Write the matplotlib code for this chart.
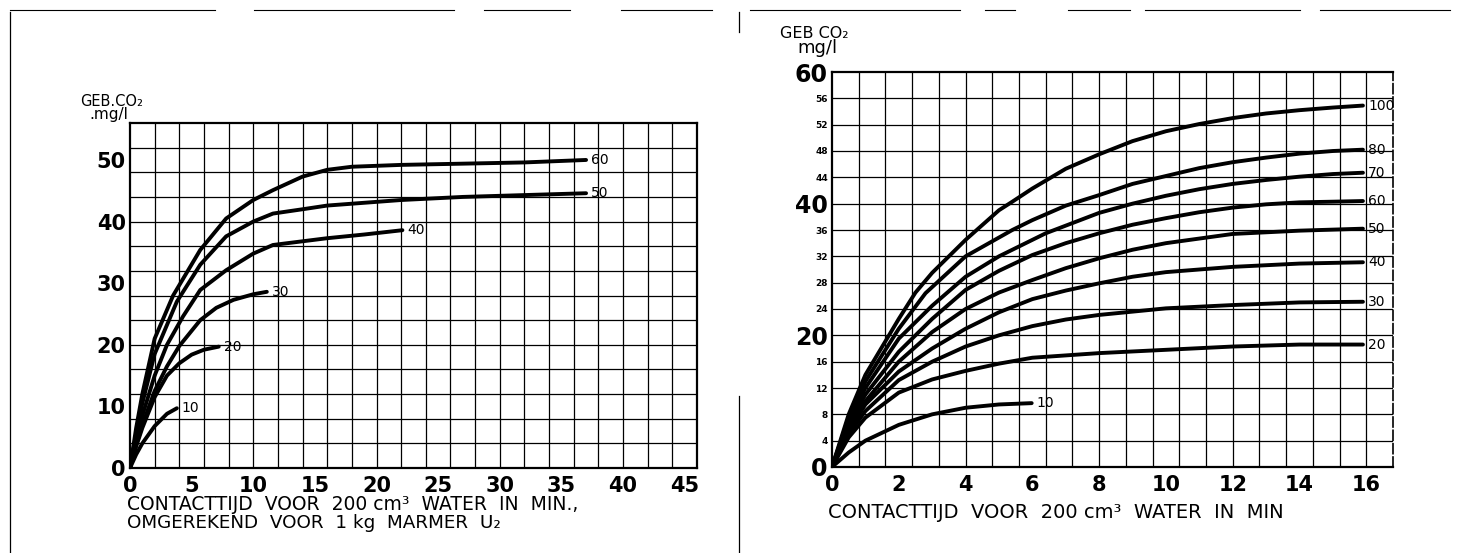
import matplotlib
matplotlib.use("Agg")
import matplotlib.pyplot as plt
from matplotlib.lines import Line2D
import numpy as np

# ---------------- data: left chart ----------------
left_labels = ["60", "50", "40", "30", "20", "10"]
left_x = [
    [0, 0.5, 1, 2, 3.5, 5.7, 7.8, 10, 11.6, 14, 16, 18, 22, 27, 32, 37],
    [0, 0.5, 1, 2, 3.8, 5.7, 7.8, 10, 11.6, 14, 16, 22, 27, 32, 37],
    [0, 0.5, 1, 2, 3, 4.3, 5.7, 7.8, 10, 11.6, 14, 16, 19, 22.1],
    [0, 0.5, 1, 2, 3, 4, 5.7, 7, 8.4, 10, 11.1],
    [0, 0.5, 1, 2, 3, 4, 5, 6, 7.2],
    [0, 0.5, 1, 2, 3, 3.8],
]
left_y = [
    [0, 6.5, 12, 21, 28, 35.4, 40.5, 43.5, 45.1, 47.3, 48.4, 48.9, 49.2, 49.4, 49.6, 50],
    [0, 5.5, 10.5, 18.5, 27, 33, 37.6, 40, 41.3, 42, 42.6, 43.5, 44, 44.3, 44.6],
    [0, 4.5, 8.5, 15, 20, 24.6, 28.9, 32.1, 34.8, 36.2, 36.8, 37.3, 37.9, 38.6],
    [0, 3.8, 7, 12.5, 16.5, 19.8, 24, 26, 27.3, 28.2, 28.6],
    [0, 3.5, 6.5, 11.5, 15, 17, 18.4, 19.2, 19.7],
    [0, 2.2, 4, 6.8, 8.8, 9.7],
]
left_xticks = [0, 5, 10, 15, 20, 25, 30, 35, 40, 45]
left_yticks = [0, 10, 20, 30, 40, 50]

# ---------------- data: right chart ----------------
right_labels = ["100", "80", "70", "60", "50", "40", "30", "20", "10"]
right_x = [
    [0, 0.5, 1, 2, 2.5, 3, 4, 5, 5.4, 6, 7, 8, 9, 10, 11, 12, 13, 14, 15, 15.9],
    [0, 0.5, 1, 2, 2.8, 4, 5.4, 6, 7, 8, 9, 10, 11, 12, 13, 14, 15, 15.9],
    [0, 0.5, 1, 2, 3, 4, 5, 6.4, 8, 9, 10, 11, 12, 13, 14, 15, 15.9],
    [0, 0.5, 1, 2, 3, 4, 5, 6, 7, 8, 9, 10, 11, 12, 13, 14, 15, 15.9],
    [0, 0.5, 1, 2, 3, 4, 5, 6, 7, 8, 9, 10, 12, 14, 15.9],
    [0, 0.5, 1, 2, 3, 4, 5, 6, 7, 8, 9, 10, 12, 14, 15.9],
    [0, 0.5, 1, 2, 3, 4, 5, 6, 7, 8, 10, 12, 14, 15.9],
    [0, 0.5, 1, 2, 3, 4, 5, 6, 8, 10, 12, 14, 15.9],
    [0, 0.5, 1, 2, 3, 4, 5, 5.98],
]
right_y = [
    [0, 8, 14, 22.5, 26.5, 29.5, 34.5, 39, 40.3, 42.3, 45.3, 47.5, 49.5, 51, 52.1, 53, 53.7, 54.2, 54.6, 54.9],
    [0, 7.5, 13, 21, 26.4, 32, 36, 37.5, 39.7, 41.3, 43, 44.2, 45.4, 46.3, 47, 47.6, 48, 48.2],
    [0, 7, 12, 19.5, 24.5, 28.9, 32, 35.5, 38.6, 40, 41.2, 42.2, 43, 43.6, 44.1, 44.5, 44.7],
    [0, 6.5, 11, 17.5, 22.5, 26.9, 29.8, 32.2, 34, 35.5, 36.8, 37.8, 38.7, 39.4, 39.9, 40.2, 40.3, 40.4],
    [0, 6, 10, 16, 20.5, 24, 26.5, 28.4, 30.2, 31.7, 33, 34, 35.4, 35.9, 36.2],
    [0, 5.5, 9.5, 14.5, 18, 21, 23.5, 25.5, 26.8, 27.9, 28.9, 29.6, 30.4, 30.9, 31.1],
    [0, 5, 8.5, 13.2, 16, 18.3, 20, 21.4, 22.4, 23.1, 24.1, 24.6, 25, 25.1],
    [0, 4.5, 7.5, 11.3, 13.3, 14.6, 15.7, 16.6, 17.3, 17.8, 18.3, 18.6, 18.6],
    [0, 2.2, 4, 6.4, 8, 9, 9.5, 9.7],
]
right_xticks = [0, 2, 4, 6, 8, 10, 12, 14, 16]
right_yticks_big = [0, 20, 40, 60]
right_yticks_small = [4, 8, 12, 16, 24, 28, 32, 36, 44, 48, 52, 56]

plt.rcParams['font.family'] = ['DejaVu Sans']

fig = plt.figure(figsize=(14.57, 5.53), dpi=100)
W, H = 1457, 553


def ax_rect(x0, x1, ytop, ybot):
    return [x0 / W, 1 - ybot / H, (x1 - x0) / W, (ybot - ytop) / H]


def style_axes(ax, xstep, ystep):
    for s in ax.spines.values():
        s.set_linewidth(1.6)
        s.set_color('black')
    x0, x1 = ax.get_xlim()
    y0, y1 = ax.get_ylim()
    for gx in np.arange(x0 + xstep, x1 - 1e-6, xstep):
        ax.axvline(gx, color='black', linewidth=0.9, zorder=1)
    for gy in np.arange(y0 + ystep, y1 - 1e-6, ystep):
        ax.axhline(gy, color='black', linewidth=0.9, zorder=1)
    ax.tick_params(which='both', length=0)


# ---------- left chart ----------
axL = fig.add_axes(ax_rect(130, 697, 123, 468))
axL.set_xlim(0, 46)
axL.set_ylim(0, 56)
axL.set_xticks(left_xticks)
axL.set_yticks(left_yticks)
axL.set_xticklabels([str(v) for v in left_xticks], fontsize=15, fontweight='bold')
axL.set_yticklabels([str(v) for v in left_yticks], fontsize=15, fontweight='bold')
axL.tick_params(axis='x', pad=6)
axL.tick_params(axis='y', pad=3)
style_axes(axL, 2, 4)
for xs, ys, lab in zip(left_x, left_y, left_labels):
    axL.plot(xs, ys, color='black', linewidth=2.8, solid_capstyle='round',
             solid_joinstyle='round', zorder=3)
    axL.text(xs[-1] + 0.4, ys[-1], lab, fontsize=10, va='center', ha='left')
fig.text(80 / W, 1 - 101 / H, "GEB.CO\u2082", fontsize=10.5, ha='left', va='center')
fig.text(89 / W, 1 - 114 / H, ".mg/l", fontsize=11, ha='left', va='center')
fig.text(127 / W, 1 - 505 / H, "CONTACTTIJD  VOOR  200 cm\u00b3  WATER  IN  MIN.,",
         fontsize=13.5, ha='left', va='center')
fig.text(127 / W, 1 - 523 / H, "OMGEREKEND  VOOR  1 kg  MARMER  U\u2082",
         fontsize=13.2, ha='left', va='center')

# ---------- right chart ----------
axR = fig.add_axes(ax_rect(832, 1393, 72, 467))
axR.set_xlim(0, 16.8)
axR.set_ylim(0, 60)
axR.set_xticks(right_xticks)
axR.set_xticklabels([str(v) for v in right_xticks], fontsize=15, fontweight='bold')
yt = sorted(right_yticks_big + right_yticks_small)
axR.set_yticks(yt)
axR.set_yticklabels([str(v) for v in yt])
for t, v in zip(axR.get_yticklabels(), yt):
    if v in right_yticks_big:
        t.set_fontsize(17)
        t.set_fontweight('bold')
    else:
        t.set_fontsize(6.5)
        t.set_fontweight('bold')
axR.tick_params(axis='x', pad=6)
axR.tick_params(axis='y', pad=3)
style_axes(axR, 0.8, 4)
axR.spines['right'].set_linestyle((0, (6, 2)))
axR.spines['right'].set_linewidth(1.2)
for xs, ys, lab in zip(right_x, right_y, right_labels):
    axR.plot(xs, ys, color='black', linewidth=2.8, solid_capstyle='round',
             solid_joinstyle='round', zorder=3)
    axR.text(xs[-1] + 0.15, ys[-1], lab, fontsize=10, va='center', ha='left')
fig.text(780 / W, 1 - 33 / H, "GEB CO\u2082", fontsize=11.5, ha='left', va='center')
fig.text(797 / W, 1 - 48 / H, "mg/l", fontsize=13, ha='left', va='center')
fig.text(828 / W, 1 - 512 / H, "CONTACTTIJD  VOOR  200 cm\u00b3  WATER  IN  MIN",
         fontsize=14, ha='left', va='center')

# ---------- page frame decorations ----------
def fline(x0, y0, x1, y1, lw=1.0):
    fig.add_artist(Line2D([x0 / W, x1 / W], [1 - y0 / H, 1 - y1 / H],
                          color='black', linewidth=lw, transform=fig.transFigure))

for a, b in [(10, 215), (254, 454), (484, 570), (621, 712), (750, 960),
             (985, 1015), (1068, 1130), (1145, 1300), (1320, 1450)]:
    fline(a, 10, b, 10, 0.8)
fline(10, 12, 10, 553, 0.9)
fline(739, 12, 739, 32, 0.9)
fline(739, 396, 739, 553, 0.9)

fig.savefig("out.png", dpi=100, facecolor='white')
